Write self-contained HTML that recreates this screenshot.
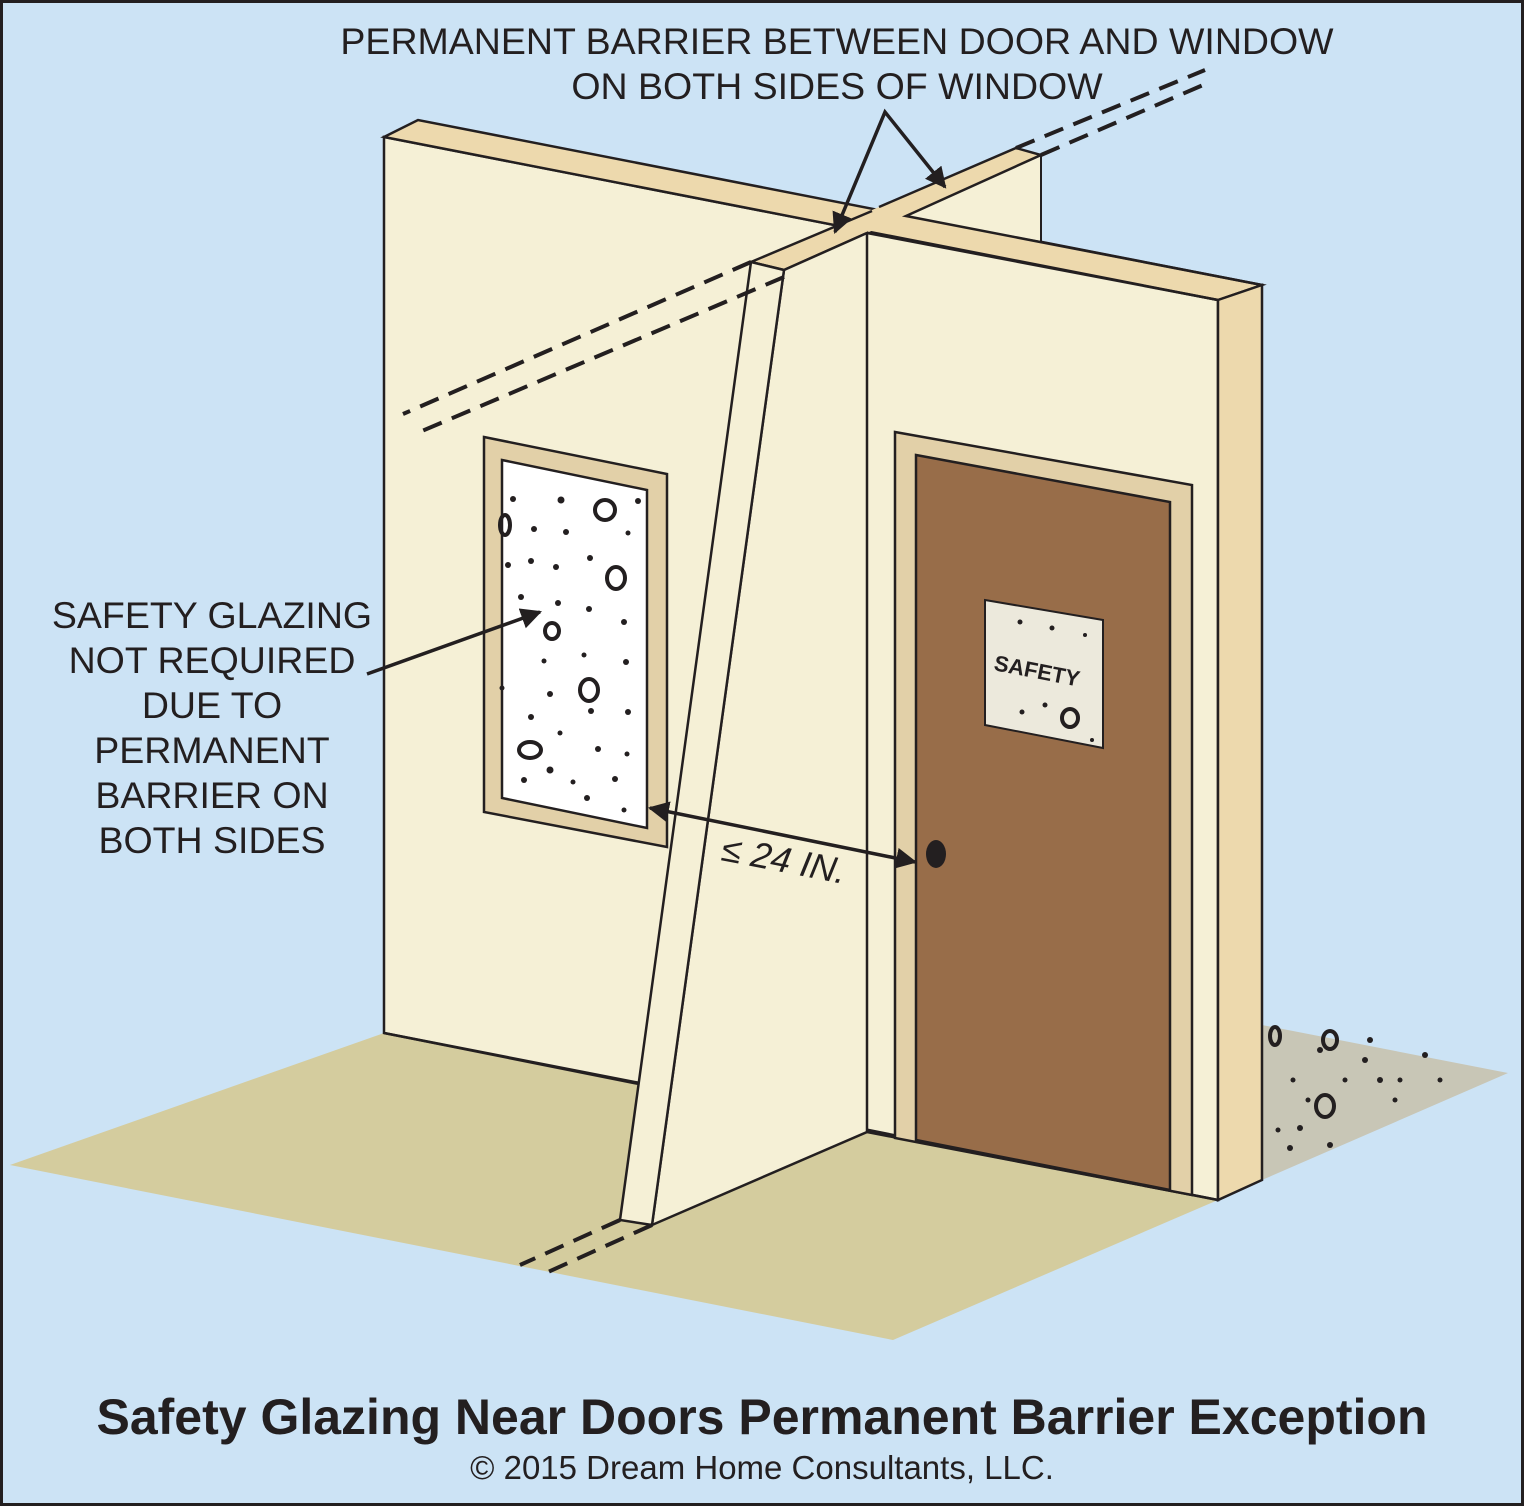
<!DOCTYPE html>
<html><head><meta charset="utf-8"><style>
html,body{margin:0;padding:0;background:#cce3f5}
svg{display:block}
text{font-family:"Liberation Sans",Arial,sans-serif;fill:#231f20}
</style></head><body>
<svg width="1524" height="1506" viewBox="0 0 1524 1506" xmlns="http://www.w3.org/2000/svg">
<defs>
<marker id="ah" viewBox="0 0 10 10" refX="9" refY="5" markerWidth="6" markerHeight="6" orient="auto-start-reverse" markerUnits="strokeWidth">
<path d="M0,0 L10,5 L0,10 z" fill="#231f20"/></marker>
</defs>
<rect x="1.5" y="1.5" width="1521" height="1503" fill="#cce3f5" stroke="#231f20" stroke-width="3"/>
<!-- floor -->
<polygon points="10,1165 384,1033 1218,1200 893,1340" fill="#d4cc9e"/>
<!-- concrete -->
<polygon points="1262,1025 1508,1073 1262,1180" fill="#c8c6b6"/>
<g fill="#231f20">
<ellipse cx="1325" cy="1106" rx="9" ry="11" fill="none" stroke="#231f20" stroke-width="4"/>
<ellipse cx="1275" cy="1036" rx="5" ry="9" fill="none" stroke="#231f20" stroke-width="4"/>
<ellipse cx="1330" cy="1040" rx="7" ry="9" fill="none" stroke="#231f20" stroke-width="4"/>
<circle cx="1320" cy="1050" r="3"/><circle cx="1345" cy="1080" r="2.5"/><circle cx="1380" cy="1080" r="3"/>
<circle cx="1400" cy="1080" r="2.5"/><circle cx="1293" cy="1080" r="2.5"/><circle cx="1300" cy="1128" r="3"/>
<circle cx="1278" cy="1130" r="2.5"/><circle cx="1365" cy="1060" r="3"/><circle cx="1290" cy="1148" r="3"/>
<circle cx="1440" cy="1080" r="2.5"/><circle cx="1425" cy="1055" r="3"/><circle cx="1370" cy="1040" r="3"/>
<circle cx="1308" cy="1100" r="2.5"/><circle cx="1330" cy="1145" r="3"/><circle cx="1395" cy="1100" r="2.5"/>
</g>
<!-- back wall -->
<polygon points="384,137 1218,300 1218,1200 384,1033" fill="#f5f0d6" stroke="#231f20" stroke-width="2.5"/>
<polygon points="384,137 418,120 1262,285 1218,300" fill="#edd9ad" stroke="#231f20" stroke-width="2.5"/>
<polygon points="1218,300 1262,285 1262,1180 1218,1200" fill="#edd9ad" stroke="#231f20" stroke-width="2.5"/>
<line x1="384" y1="1033" x2="640" y2="1083" stroke="#231f20" stroke-width="2.5"/>
<!-- cross wall back part -->
<polygon points="906,216 1041,155 1041,241" fill="#f5f0d6"/>
<line x1="1041" y1="155" x2="1041" y2="241" stroke="#231f20" stroke-width="2"/>
<!-- cross wall top -->
<polygon points="751,262 1016,148 1041,155 784,270" fill="#edd9ad"/>
<polygon points="845,222 906,216 872,211" fill="#edd9ad"/>
<polyline points="751,262 872,211" fill="none" stroke="#231f20" stroke-width="2.5"/>
<polyline points="879,207 1016,148 1041,155 906,216 1262,285" fill="none" stroke="#231f20" stroke-width="2.5"/>
<polyline points="784,270 867,233" fill="none" stroke="#231f20" stroke-width="2.5"/>
<line x1="751" y1="262" x2="784" y2="270" stroke="#231f20" stroke-width="2.5"/>
<!-- cross wall front faces -->
<polygon points="784,270 867,233 867,1132 652,1225" fill="#f5f0d6" stroke="#231f20" stroke-width="2.5"/>
<polygon points="751,262 784,270 652,1225 620,1220" fill="#f5f0d6" stroke="#231f20" stroke-width="2.5"/>
<line x1="867" y1="233" x2="1218" y2="300" stroke="#231f20" stroke-width="2.5"/>
<line x1="867" y1="1132" x2="1218" y2="1200" stroke="#231f20" stroke-width="2.5"/>
<!-- door -->
<polygon points="895,432 1192,485 1192,1195 895,1138" fill="#e2d0a8" stroke="#231f20" stroke-width="2.5"/>
<polygon points="916,455 1170,502 1170,1190 916,1140" fill="#986d49" stroke="#231f20" stroke-width="2.5"/>
<ellipse cx="936" cy="854" rx="10" ry="14" fill="#231f20"/>
<polygon points="985,600 1103,620 1103,748 985,725" fill="#ece9dc" stroke="#231f20" stroke-width="2"/>
<text x="993" y="670" font-size="22" font-weight="bold" transform="rotate(11 993 670)">SAFETY</text>
<g fill="#231f20"><circle cx="1020" cy="622" r="2.5"/><circle cx="1052" cy="628" r="2.5"/><circle cx="1085" cy="635" r="2"/><circle cx="1022" cy="712" r="2.5"/><circle cx="1045" cy="705" r="2.5"/><circle cx="1092" cy="740" r="2"/></g>
<ellipse cx="1070" cy="718" rx="8" ry="9" fill="none" stroke="#231f20" stroke-width="4"/>
<!-- window -->
<polygon points="484,437 667,474 667,847 484,812" fill="#e2d0a8" stroke="#231f20" stroke-width="2.5"/>
<polygon points="502,460 647,490 647,828 502,798" fill="#ffffff" stroke="#231f20" stroke-width="2.5"/>
<g fill="none" stroke="#231f20" stroke-width="4">
<ellipse cx="605" cy="510" rx="10" ry="10"/><ellipse cx="616" cy="578" rx="9" ry="11"/>
<ellipse cx="552" cy="631" rx="7" ry="8"/><ellipse cx="589" cy="690" rx="9" ry="11"/>
<ellipse cx="530" cy="750" rx="11" ry="8"/><ellipse cx="505" cy="525" rx="5" ry="10"/>
</g>
<g fill="#231f20">
<circle cx="513" cy="499" r="3"/><circle cx="561" cy="500" r="3.5"/><circle cx="638" cy="501" r="3"/>
<circle cx="534" cy="529" r="3"/><circle cx="566" cy="532" r="3"/><circle cx="628" cy="533" r="2.5"/>
<circle cx="508" cy="565" r="3"/><circle cx="531" cy="561" r="3"/><circle cx="556" cy="567" r="3"/>
<circle cx="590" cy="558" r="3"/><circle cx="521" cy="597" r="3"/><circle cx="558" cy="603" r="3"/>
<circle cx="589" cy="609" r="3"/><circle cx="624" cy="622" r="3"/><circle cx="584" cy="655" r="2.5"/>
<circle cx="626" cy="662" r="3"/><circle cx="544" cy="661" r="2.5"/><circle cx="550" cy="694" r="3"/>
<circle cx="502" cy="688" r="2.5"/><circle cx="591" cy="711" r="3"/><circle cx="628" cy="712" r="3"/>
<circle cx="531" cy="717" r="3"/><circle cx="560" cy="733" r="2.5"/><circle cx="598" cy="749" r="3"/>
<circle cx="627" cy="754" r="2.5"/><circle cx="550" cy="770" r="3.5"/><circle cx="524" cy="780" r="3"/>
<circle cx="573" cy="782" r="2.5"/><circle cx="615" cy="779" r="3"/><circle cx="587" cy="798" r="3"/><circle cx="624" cy="810" r="2.5"/>
</g>
<!-- dashed lines -->
<g stroke="#231f20" stroke-width="4" stroke-dasharray="20,11" fill="none">
<line x1="751" y1="262" x2="403" y2="414"/>
<line x1="784" y1="277" x2="422" y2="431"/>
<line x1="1016" y1="148" x2="1205" y2="70"/>
<line x1="1041" y1="155" x2="1210" y2="82"/>
<line x1="620" y1="1220" x2="520" y2="1265"/>
<line x1="652" y1="1225" x2="548" y2="1272"/>
</g>
<!-- arrows -->
<g stroke="#231f20" stroke-width="3.5" fill="none">
<polyline points="835,232 885,112 945,187" marker-start="url(#ah)" marker-end="url(#ah)"/>
<line x1="367" y1="674" x2="540" y2="612" marker-end="url(#ah)"/>
<line x1="650" y1="808" x2="915" y2="862" marker-start="url(#ah)" marker-end="url(#ah)"/>
</g>
<!-- labels -->
<g font-size="37.5" text-anchor="middle">
<text x="837" y="54">PERMANENT BARRIER BETWEEN DOOR AND WINDOW</text>
<text x="837" y="99">ON BOTH SIDES OF WINDOW</text>
<text x="212" y="628">SAFETY GLAZING</text>
<text x="212" y="673">NOT REQUIRED</text>
<text x="212" y="718">DUE TO</text>
<text x="212" y="763">PERMANENT</text>
<text x="212" y="808">BARRIER ON</text>
<text x="212" y="853">BOTH SIDES</text>
</g>
<text x="720" y="860" font-size="36" font-style="italic" transform="rotate(11 720 860)">≤ 24 IN.</text>
<text x="762" y="1434" font-size="50" font-weight="bold" text-anchor="middle">Safety Glazing Near Doors Permanent Barrier Exception</text>
<text x="762" y="1479" font-size="33" text-anchor="middle">© 2015 Dream Home Consultants, LLC.</text>
</svg>
</body></html>
